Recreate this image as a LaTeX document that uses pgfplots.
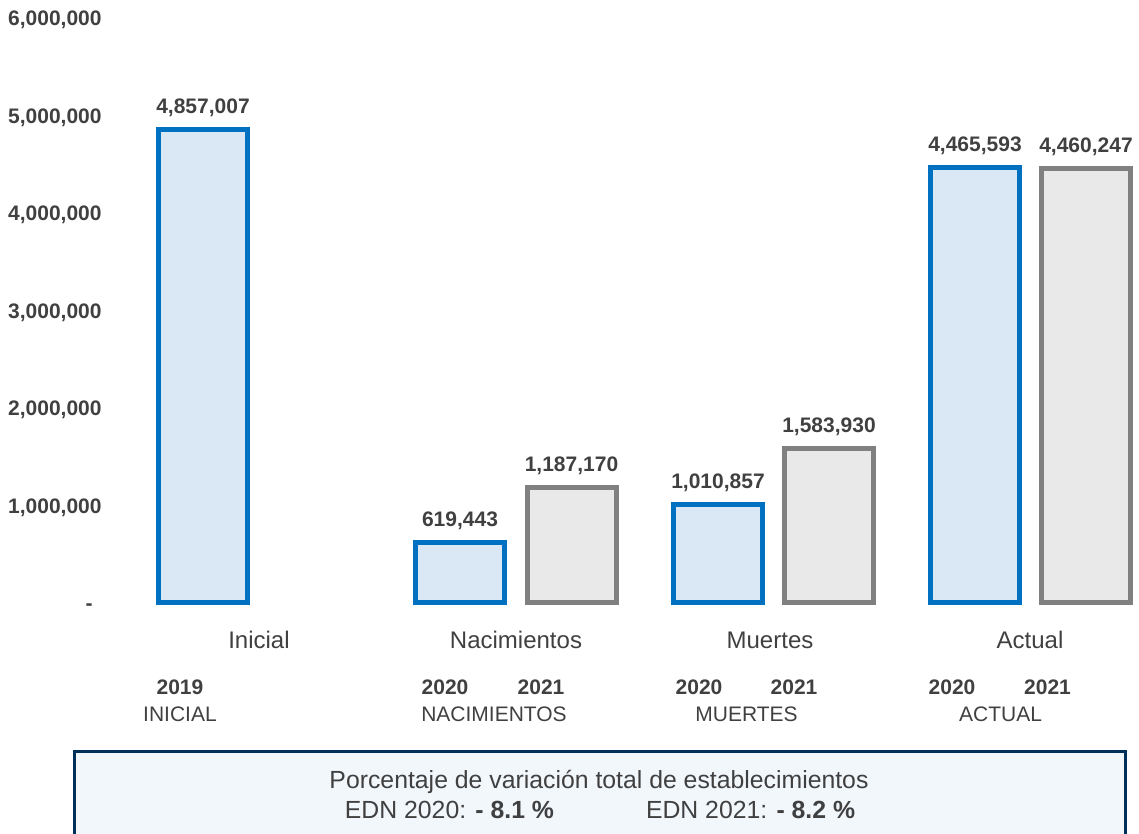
\documentclass[border=0pt]{standalone}
\usepackage{fontspec}
\setmainfont{Liberation Sans}
\usepackage{pgfplots}
\usepackage{pgfplotstable}
\pgfplotsset{compat=1.18}
\definecolor{bluebd}{RGB}{0,112,192}
\definecolor{bluefill}{RGB}{218,232,246}
\definecolor{graybd}{RGB}{128,128,128}
\definecolor{grayfill}{RGB}{233,233,233}
\definecolor{txt}{RGB}{64,64,64}
\definecolor{navy}{RGB}{0,48,90}
\definecolor{boxfill}{RGB}{242,247,252}

\pgfplotstableread{
x y lab
203 4857007 4,857,007
460 619443 619,443
718 1010857 1,010,857
975 4465593 4,465,593
}\bluedata
\pgfplotstableread{
x y lab
571.5 1187170 1,187,170
829 1583930 1,583,930
1086 4460247 4,460,247
}\graydata

\begin{document}
\begin{tikzpicture}
\path[use as bounding box] (0,0) rectangle (569.5pt,417pt);
\begin{axis}[
  at={(51pt,115.5pt)}, anchor=south west,
  scale only axis, width=518.5pt, height=292.35pt,
  xmin=102, xmax=1139, ymin=0, ymax=6000000,
  clip=false,
  axis line style={draw=none}, tick style={draw=none},
  scaled y ticks=false,
  ytick={0,1000000,2000000,3000000,4000000,5000000,6000000},
  yticklabels={{-\kern4.5pt},{1,000,000},{2,000,000},{3,000,000},{4,000,000},{5,000,000},{6,000,000}},
  yticklabel style={anchor=base east, inner sep=0pt, yshift=-3.76pt, font=\fontsize{10.5}{12}\selectfont\bfseries, text=txt},
  xtick={259,516,770,1030},
  xticklabels={Inicial,Nacimientos,Muertes,Actual},
  xticklabel style={anchor=base, inner sep=0pt, yshift=-18.5pt, font=\fontsize{12}{14}\selectfont, text=txt},
  ybar, bar width=89, bar shift=0pt,
  point meta=explicit symbolic,
  nodes near coords={\pgfplotspointmeta},
  nodes near coords style={anchor=base, inner sep=0pt, yshift=8pt, font=\fontsize{10.5}{12}\selectfont\bfseries, text=txt},
]
\addplot[draw=bluebd, fill=bluefill, line width=2.5pt] table[x=x, y=y, meta=lab] {\bluedata};
\addplot[draw=graybd, fill=grayfill, line width=2.5pt] table[x=x, y=y, meta=lab] {\graydata};
\end{axis}
\begin{scope}[x=0.5pt, y=-0.5pt, shift={(0,417pt)}]
  \begin{scope}[every node/.style={anchor=base, inner sep=0pt, text=txt}]
    \node[font=\fontsize{10.5}{12}\selectfont\bfseries] at (180,695) {2019};
    \node[font=\fontsize{10.5}{12}\selectfont] at (180,722) {INICIAL};
    \node[font=\fontsize{10.5}{12}\selectfont\bfseries] at (445,695) {2020};
    \node[font=\fontsize{10.5}{12}\selectfont\bfseries] at (541,695) {2021};
    \node[font=\fontsize{10.5}{12}\selectfont] at (494,722) {NACIMIENTOS};
    \node[font=\fontsize{10.5}{12}\selectfont\bfseries] at (699,695) {2020};
    \node[font=\fontsize{10.5}{12}\selectfont\bfseries] at (794,695) {2021};
    \node[font=\fontsize{10.5}{12}\selectfont] at (746.5,722) {MUERTES};
    \node[font=\fontsize{10.5}{12}\selectfont\bfseries] at (952,695) {2020};
    \node[font=\fontsize{10.5}{12}\selectfont\bfseries] at (1047.5,695) {2021};
    \node[font=\fontsize{10.5}{12}\selectfont] at (1000.5,722) {ACTUAL};
  \end{scope}
  \draw[navy, line width=1.65pt, fill=boxfill] (74.7,751.7) -- (74.7,845) -- (1125.3,845) -- (1125.3,751.7) -- cycle;
  \node[anchor=base, inner sep=0pt, text=txt, font=\fontsize{12.4}{14}\selectfont] at (599,789) {Porcentaje de variación total de establecimientos};
  \node[anchor=base, inner sep=0pt, text=txt, font=\fontsize{12.4}{14}\selectfont] at (600,819) {EDN 2020: \textbf{- 8.1 \%}\hspace{46pt}EDN 2021: \textbf{- 8.2 \%}};
\end{scope}
\end{tikzpicture}
\end{document}
